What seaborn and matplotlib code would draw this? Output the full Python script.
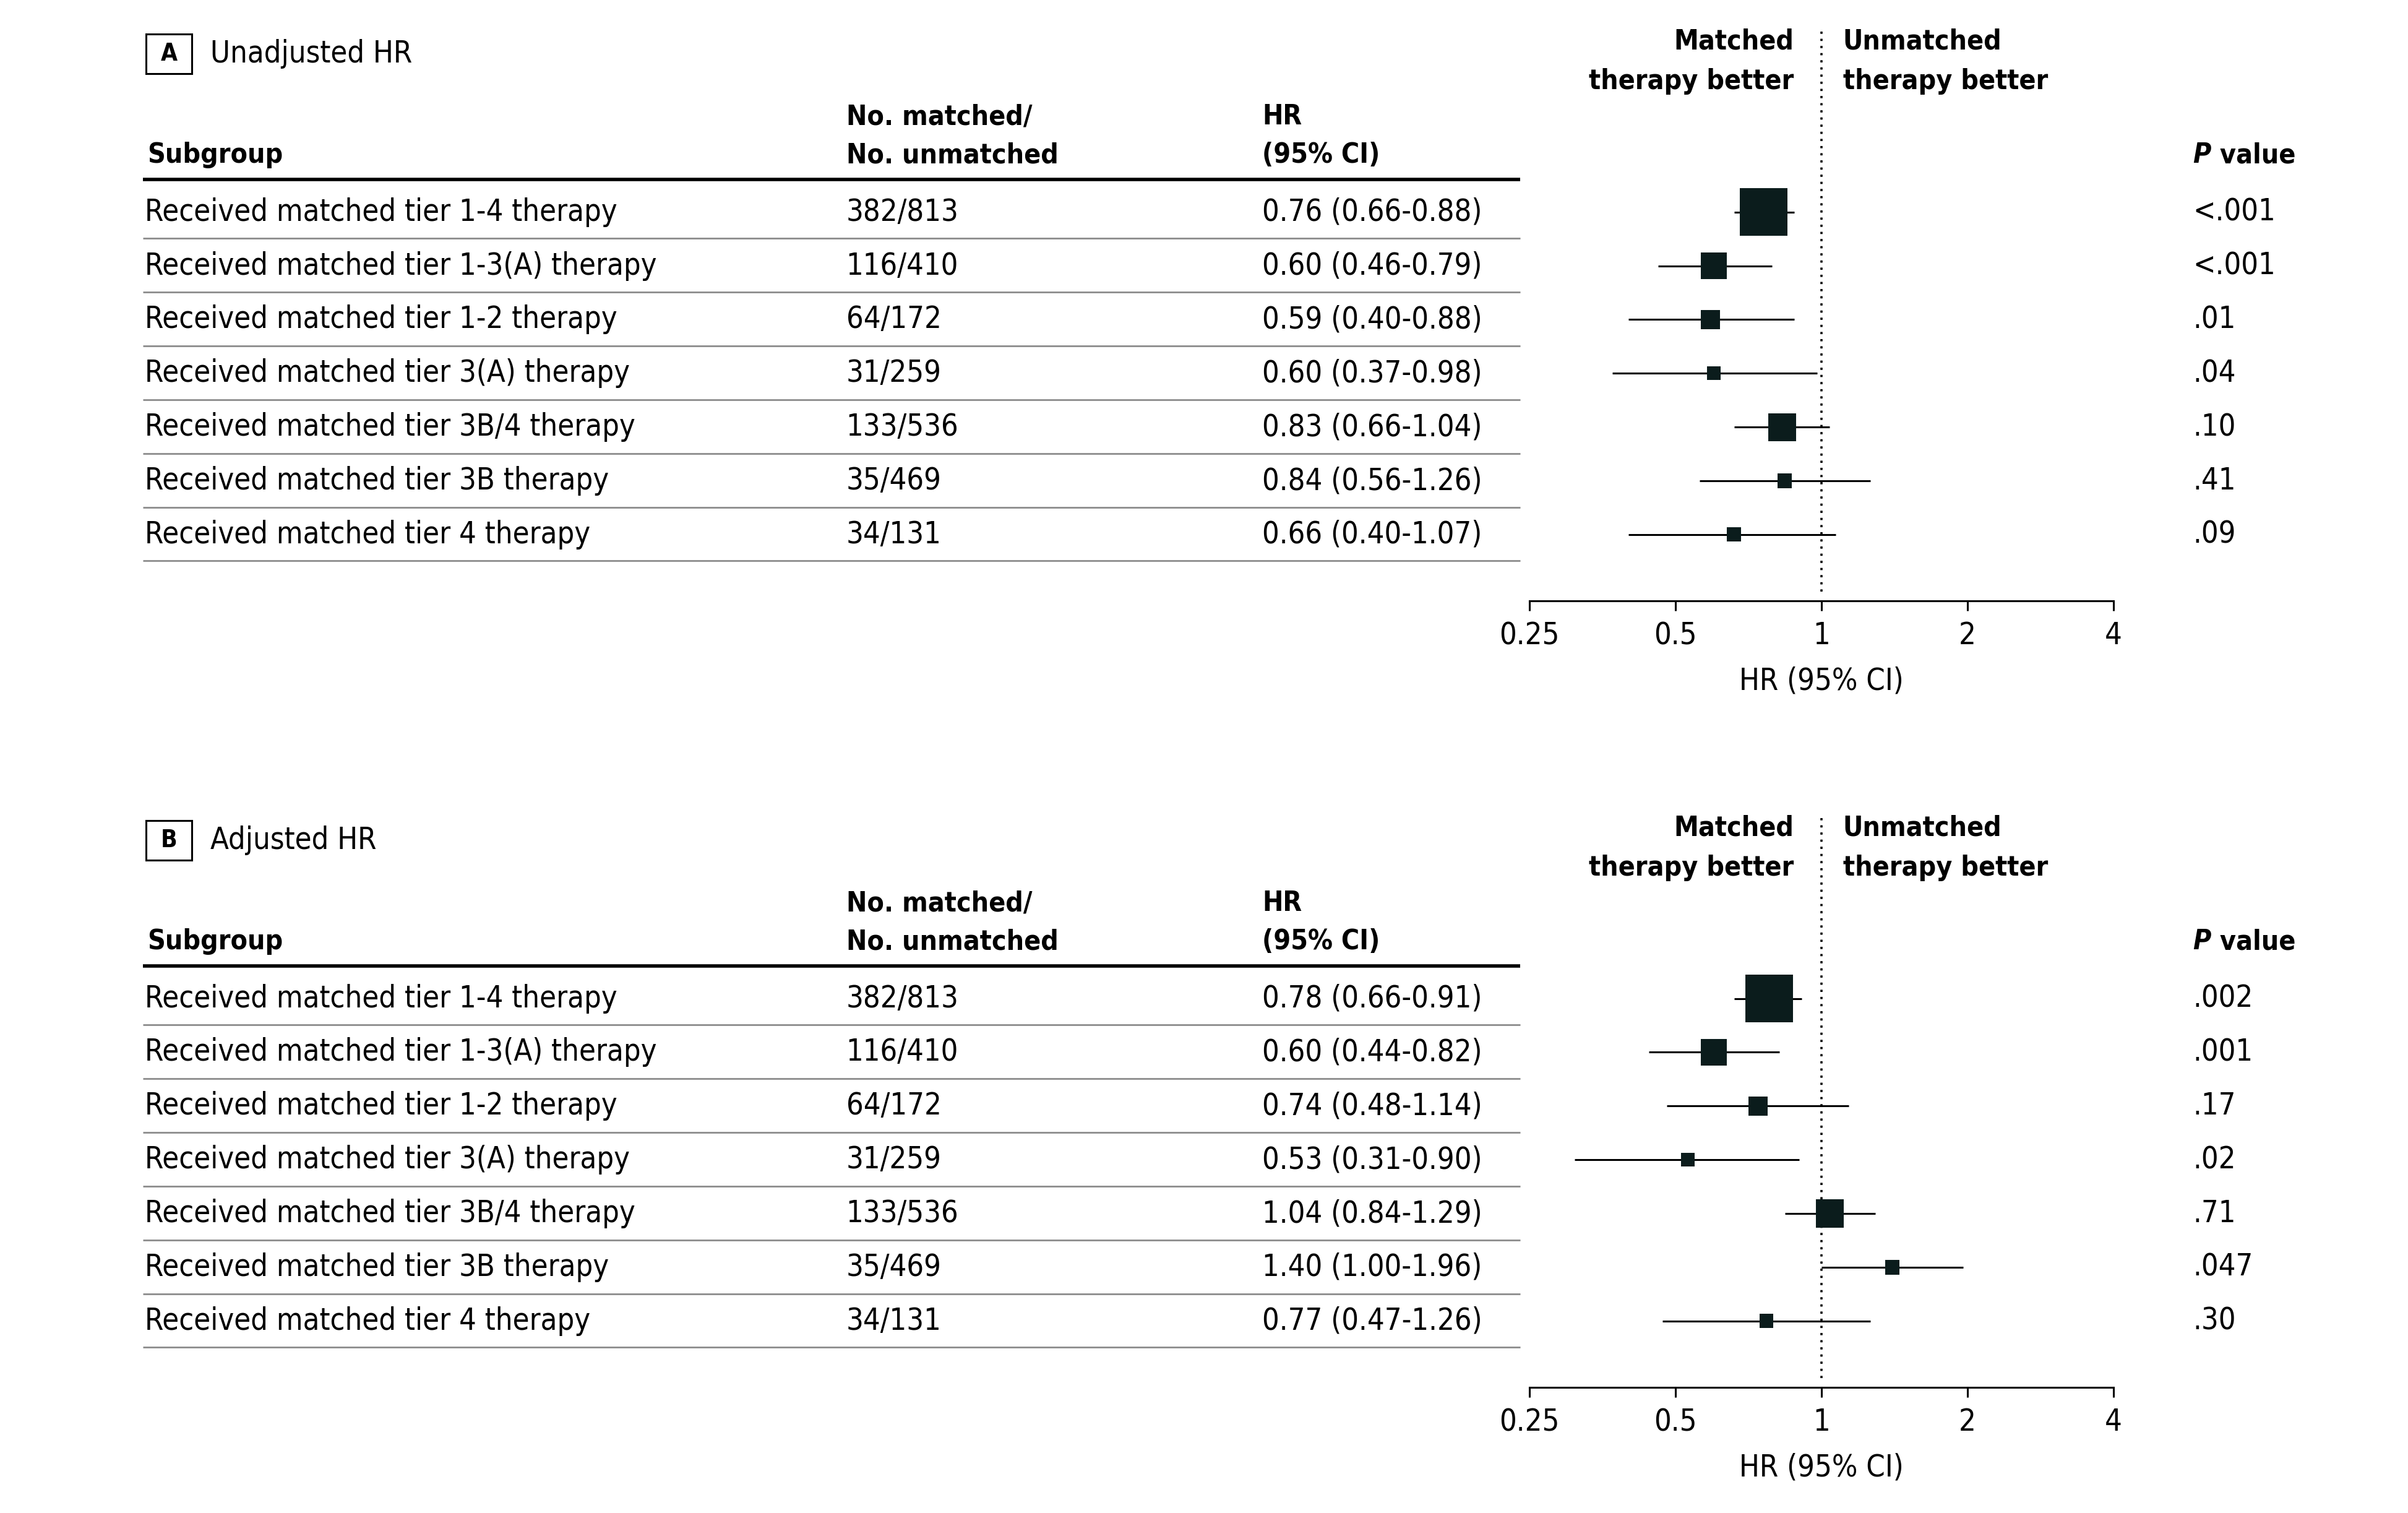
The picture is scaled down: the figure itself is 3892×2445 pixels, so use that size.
import numpy as np
import pandas as pd
import matplotlib
matplotlib.use('Agg')
import matplotlib.pyplot as plt
import matplotlib.transforms as mtransforms
from matplotlib.patches import Rectangle
import seaborn as sns

# Daten aus der Abbildung
subgroups = ['Received matched tier 1-4 therapy', 'Received matched tier 1-3(A) therapy',
             'Received matched tier 1-2 therapy', 'Received matched tier 3(A) therapy',
             'Received matched tier 3B/4 therapy', 'Received matched tier 3B therapy',
             'Received matched tier 4 therapy']
n_matched = [382, 116, 64, 31, 133, 35, 34]
n_unmatched = [813, 410, 172, 259, 536, 469, 131]

hr_unadj = [0.76, 0.60, 0.59, 0.60, 0.83, 0.84, 0.66]
lo_unadj = [0.66, 0.46, 0.40, 0.37, 0.66, 0.56, 0.40]
hi_unadj = [0.88, 0.79, 0.88, 0.98, 1.04, 1.26, 1.07]
p_unadj = ['<.001', '<.001', '.01', '.04', '.10', '.41', '.09']

hr_adj = [0.78, 0.60, 0.74, 0.53, 1.04, 1.40, 0.77]
lo_adj = [0.66, 0.44, 0.48, 0.31, 0.84, 1.00, 0.47]
hi_adj = [0.91, 0.82, 1.14, 0.90, 1.29, 1.96, 1.26]
p_adj = ['.002', '.001', '.17', '.02', '.71', '.047', '.30']

x_ticks = [0.25, 0.5, 1, 2, 4]
x_ticklabels = ['0.25', '0.5', '1', '2', '4']

sns.set_theme(style='white')
plt.rcParams['font.family'] = ['DejaVu Sans Condensed', 'Liberation Sans Narrow', 'DejaVu Sans']
plt.rcParams['font.stretch'] = 'condensed'

FS = 17.5       # normaler Text
FS_B = 16       # fetter Text
BOX_COLOR = '#0b1c1c'

# Spaltenpositionen (Figure-Koordinaten)
X_SUB = 0.0600
X_NUM = 0.3514
X_HR = 0.5242
X_P = 0.9107
X_LINE0, X_LINE1 = 0.0593, 0.6314
AX_LEFT, AX_RIGHT = 0.6352, 0.8776
AX_HEIGHT = 0.3787


def drawPanel(fig, bottom, letter, title, hr, lo, hi, pvals):
    ax = fig.add_axes([AX_LEFT, bottom, AX_RIGHT - AX_LEFT, AX_HEIGHT])
    ax.patch.set_alpha(0)
    ax.set_xscale('log', base=2)

    df = pd.DataFrame({'row': np.arange(len(hr)), 'hr': hr, 'lo': lo, 'hi': hi,
                       'n': n_matched})
    # Kastenflaeche proportional zur Anzahl matched
    df['area'] = df['n'] * 2.0

    ax.hlines(df['row'], df['lo'], df['hi'], color='black', lw=1.1, zorder=2)
    sns.scatterplot(data=df, x='hr', y='row', marker='s', s=df['area'], color=BOX_COLOR,
                    linewidth=0, legend=False, zorder=3, ax=ax)

    ax.set_xlim(0.25, 4)
    ax.set_ylim(7.2286, -3.4286)
    ax.axvline(1, ymin=0.016, ymax=1, color='black', ls=(0, (1, 2.2)), lw=1.3, zorder=1)

    ax.minorticks_off()
    ax.set_xticks(x_ticks, x_ticklabels)
    ax.set_yticks([])
    ax.set_ylabel('')
    ax.tick_params(axis='x', direction='out', length=5.8, width=1.1, pad=6,
                   labelsize=FS, colors='black', bottom=True)
    ax.set_xlabel('HR (95% CI)', fontsize=FS, labelpad=9, color='black')
    sns.despine(ax=ax, left=True)
    ax.spines['bottom'].set_linewidth(1.1)
    ax.spines['bottom'].set_color('black')

    tr = mtransforms.blended_transform_factory(fig.transFigure, ax.transData)
    kw = dict(transform=tr, fontsize=FS, va='center', color='black')
    kwb = dict(transform=tr, fontsize=FS_B, va='center', color='black', fontweight='bold')

    # Paneltitel
    ax.add_patch(Rectangle((0.0606, -3.314), 0.0191, 0.743, transform=tr, fill=False,
                           lw=1.1, ec='black', clip_on=False))
    ax.text(0.0702, -2.943, letter, ha='center', **{**kwb, 'fontsize': 14})
    ax.text(0.0874, -2.943, title, ha='left', **kw)

    # Kopfzeile
    ax.text(X_SUB + 0.0012, -1.057, 'Subgroup', ha='left', **kwb)
    ax.text(X_NUM, -1.771, 'No. matched/', ha='left', **kwb)
    ax.text(X_NUM, -1.057, 'No. unmatched', ha='left', **kwb)
    ax.text(X_HR, -1.771, 'HR', ha='left', **kwb)
    ax.text(X_HR, -1.057, '(95% CI)', ha='left', **kwb)
    ax.text(0.7449, -3.171, 'Matched', ha='right', **kwb)
    ax.text(0.7449, -2.429, 'therapy better', ha='right', **kwb)
    ax.text(0.7653, -3.171, 'Unmatched', ha='left', **kwb)
    ax.text(0.7653, -2.429, 'therapy better', ha='left', **kwb)
    ptxt = ax.text(X_P, -1.057, 'P', ha='left', fontstyle='italic', **kwb)
    ax.annotate(' value', xy=(1, 0), xycoords=ptxt, ha='left', va='bottom',
                fontsize=FS_B, fontweight='bold', color='black')

    ax.plot([X_LINE0, X_LINE1], [-0.6, -0.6], transform=tr, color='black', lw=2.0,
            clip_on=False, solid_capstyle='butt')

    for i in range(len(hr)):
        ax.text(X_SUB, i, subgroups[i], ha='left', **kw)
        ax.text(X_NUM, i, f'{n_matched[i]}/{n_unmatched[i]}', ha='left', **kw)
        ax.text(X_HR, i, f'{hr[i]:.2f} ({lo[i]:.2f}-{hi[i]:.2f})', ha='left', **kw)
        ax.text(X_P, i, pvals[i], ha='left', **kw)
        ax.plot([X_LINE0, X_LINE1], [i + 0.49, i + 0.49], transform=tr, color='#8c8c8c',
                lw=1.0, clip_on=False, solid_capstyle='butt')
    return ax


fig = plt.figure(figsize=(3892 / 200, 2445 / 200), dpi=200)
fig.patch.set_facecolor('white')

drawPanel(fig, 0.6030, 'A', 'Unadjusted HR', hr_unadj, lo_unadj, hi_unadj, p_unadj)
drawPanel(fig, 0.0832, 'B', 'Adjusted HR', hr_adj, lo_adj, hi_adj, p_adj)

fig.savefig('out.png', dpi=200, facecolor='white')
